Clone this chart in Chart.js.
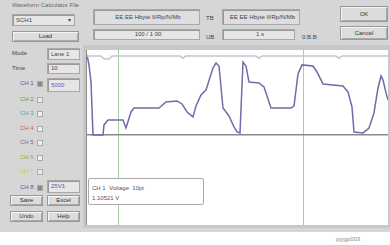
<!DOCTYPE html>
<html>
<head>
<meta charset="utf-8">
<script src="https://cdn.jsdelivr.net/npm/chart.js@4/dist/chart.umd.min.js"></script>
<style>
  body { margin:0; width:390px; height:245px; background:#fff; font-family:"Liberation Sans", Arial, sans-serif; overflow:hidden; }
  #win { position:absolute; left:0; top:0; width:390px; height:232px; background:#d6d6d6; }
  .abs { position:absolute; font-size:6px; color:#444; white-space:nowrap; }
  .btn { position:absolute; background:#dcdcdc; border:1px solid #999; box-shadow:inset 1px 1px 0 #f4f4f4, inset -1px -1px 0 #aaa; font-size:6px; color:#333; text-align:center; box-sizing:border-box; }
  .field { position:absolute; background:#e6e6e6; border:1px solid #a8a8a8; box-shadow:inset 1px 1px 0 #999; font-size:6px; color:#444; box-sizing:border-box; padding-left:3px; }
  .ch { position:absolute; left:20px; font-size:6px; }
  .chk { position:absolute; left:37px; width:4px; height:4px; border:1px solid #aaa; background:#eee; }
  #frame { position:absolute; left:83px; top:45px; width:307px; height:183px; background:#c8c8c8; }
  #plot { position:absolute; left:86px; top:50px; width:301px; height:175px; background:#fff; border-left:1px solid #8a8a8a; }
  #tip { position:absolute; left:88px; top:178px; width:116px; height:27px; border:1px solid #aaa; border-radius:2px; background:#fff; font-size:6px; color:#555; box-sizing:border-box; padding:4px 3px; line-height:10px; }
</style>
</head>
<body>
<div id="win">
  <div class="abs" style="left:12px;top:2px;color:#666">Waveform Calculator File</div>
  <div class="field" style="left:12px;top:14px;width:63px;height:12px;line-height:10px">SCH1<span style="position:absolute;right:3px">▾</span></div>
  <div class="btn" style="left:12px;top:31px;width:67px;height:11px;line-height:9px">Load</div>

  <div class="field" style="left:93px;top:9px;width:107px;height:16px;line-height:14px;text-align:center;background:#dedede">EE EE Hbyte II/Rp/N/Mb</div>
  <div class="field" style="left:93px;top:29px;width:107px;height:11px;line-height:9px;text-align:center">100 / 1 00</div>
  <div class="abs" style="left:206px;top:15px">TB</div>
  <div class="abs" style="left:206px;top:34px">UB</div>
  <div class="field" style="left:222px;top:9px;width:78px;height:16px;line-height:14px;text-align:center;background:#dedede">EE EE Hbyte II/Rp/N/Mb</div>
  <div class="field" style="left:222px;top:29px;width:73px;height:11px;line-height:9px;text-align:center">1 s</div>
  <div class="abs" style="left:302px;top:34px">0.B.B</div>
  <div class="btn" style="left:340px;top:6px;width:48px;height:16px;line-height:14px">OK</div>
  <div class="btn" style="left:340px;top:26px;width:48px;height:14px;line-height:12px">Cancel</div>

  <div class="abs" style="left:12px;top:50px">Mode</div>
  <div class="field" style="left:47px;top:48px;width:33px;height:12px;line-height:10px">Lane 1</div>
  <div class="abs" style="left:12px;top:65px">Time</div>
  <div class="field" style="left:47px;top:63px;width:33px;height:11px;line-height:9px">10</div>

  <div class="ch" style="top:80px;color:#5a5ac0">CH 1</div><div class="chk" style="top:81px;background:#888"></div>
  <div class="field" style="left:47px;top:78px;width:33px;height:14px;line-height:12px;color:#5a5ac0">5000</div>
  <div class="ch" style="top:96px;color:#3fa866">CH 2</div><div class="chk" style="top:97px"></div>
  <div class="ch" style="top:110px;color:#3aa8c4">CH 3</div><div class="chk" style="top:111px"></div>
  <div class="ch" style="top:125px;color:#d05c5c">CH 4</div><div class="chk" style="top:126px"></div>
  <div class="ch" style="top:139px;color:#8a62b0">CH 5</div><div class="chk" style="top:140px"></div>
  <div class="ch" style="top:154px;color:#9aaa30">CH 6</div><div class="chk" style="top:155px"></div>
  <div class="ch" style="top:168px;color:#d8cc30">CH 7</div><div class="chk" style="top:169px"></div>
  <div class="ch" style="top:184px;color:#4a5ac0">CH 8</div><div class="chk" style="top:185px;background:#888"></div>
  <div class="field" style="left:47px;top:180px;width:33px;height:13px;line-height:11px;color:#4a5ac0">25V1</div>
  <div class="btn" style="left:10px;top:195px;width:33px;height:11px;line-height:9px">Save</div>
  <div class="btn" style="left:47px;top:195px;width:33px;height:11px;line-height:9px">Excel</div>
  <div class="btn" style="left:10px;top:211px;width:33px;height:11px;line-height:9px">Undo</div>
  <div class="btn" style="left:47px;top:211px;width:33px;height:11px;line-height:9px">Help</div>

  <div id="frame"></div>
  <div id="plot"><canvas id="wave" width="301" height="175"></canvas></div>
  <div id="tip">CH 1 &nbsp;Voltage &nbsp;10pt<br>1.10521 V</div>
</div>
<div class="abs" style="left:336px;top:236px;color:#888">pyjgp003</div>

<script>
// CH1 waveform (time index, volts)
var t1 = [0,2,4,6,16,17,21,36,39,44,47,72,79,90,95,100,106,109,114,119,126,129,132,136,142,147,150,153,156,159,162,172,177,184,204,207,211,215,226,230,236,256,261,265,267,276,282,287,291,294,296,299,301];
var v1 = [5.0,4.38,3.31,0,0,0.63,0.94,0.94,0.44,1.44,1.69,1.69,2.06,2.13,1.94,1.44,1.13,1.81,2.5,2.81,4.19,4.5,4.31,1.69,1.19,0.5,0.19,0.13,4.56,4.31,3.31,3.25,3.0,1.69,1.69,1.81,3.81,4.38,4.31,3.94,3.19,3.06,2.69,1.75,0.19,0.13,0.44,1.38,2.94,3.69,3.44,2.63,2.19];
// reference trace along the top
var t2 = [0,14,17,22,25,93,96,99,169,172,175,249,252,255,301];
var v2 = [4.94,4.94,4.75,4.75,4.94,4.94,4.8,4.94,4.94,4.8,4.94,4.94,4.8,4.94,4.94];
// cursor positions
var cursors = [31, 216];

function pts(t, v) { return t.map(function (x, i) { return {x: x, y: v[i]}; }); }

new Chart("wave", {
  type: "line",
  data: {
    datasets: [{
      data: pts(t2, v2),
      borderColor: "#c4c4ce",
      borderWidth: 1.5,
      pointRadius: 0,
      tension: 0
    }, {
      data: pts(t1, v1),
      borderColor: "#7868a8",
      borderWidth: 1.5,
      pointRadius: 0,
      tension: 0
    }]
  },
  options: {
    responsive: false,
    animation: false,
    layout: { padding: 0 },
    plugins: { legend: { display: false }, tooltip: { enabled: false } },
    scales: {
      x: {
        type: "linear", min: 0, max: 301,
        ticks: { display: false },
        border: { display: false },
        grid: { color: "#a6cfa6", lineWidth: 1, drawTicks: false },
        afterBuildTicks: function (s) { s.ticks = cursors.map(function (c) { return {value: c}; }); }
      },
      y: {
        min: -5.625, max: 5.3125,
        ticks: { display: false },
        border: { display: false },
        grid: { color: "#8a8a8a", lineWidth: 1.5, drawTicks: false },
        afterBuildTicks: function (s) { s.ticks = [{value: 0}]; }
      }
    }
  }
});
</script>
</body>
</html>
